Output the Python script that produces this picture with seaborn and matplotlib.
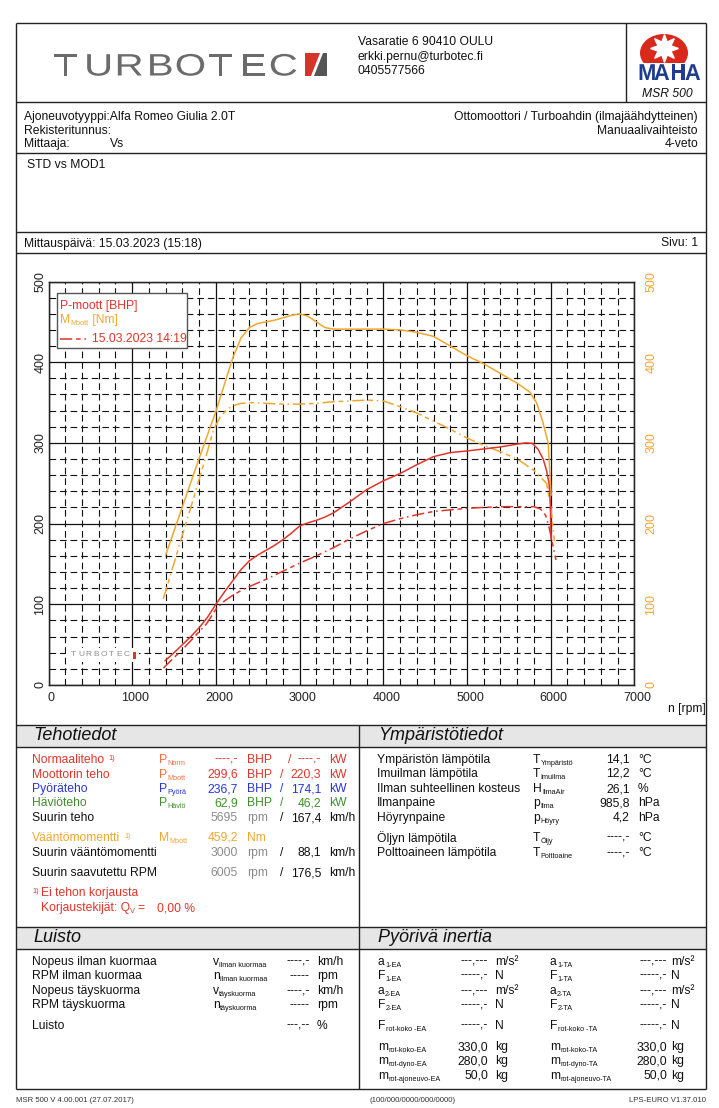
import matplotlib
matplotlib.use("Agg")
import matplotlib.pyplot as plt
import seaborn as sns
from matplotlib.ticker import MultipleLocator
from matplotlib.patches import Rectangle, Polygon, Circle, Ellipse, PathPatch
from matplotlib.textpath import TextPath
from matplotlib.font_manager import FontProperties
from matplotlib.transforms import Affine2D, ScaledTranslation

W, H = 719, 1108

# ---- dyno curves (rpm / BHP / Nm) ----
rpm_p_mod = [1392, 1500, 1600, 1700, 1800, 1900, 2000, 2100, 2200, 2300, 2400, 2500, 2600, 2700,
             2800, 2900, 3000, 3100, 3200, 3300, 3400, 3600, 3800, 4000, 4200, 4400, 4600, 4800,
             5000, 5200, 5400, 5600, 5700, 5780, 5850, 5910, 5950, 5980, 5995, 6005]
power_mod = [30, 40, 50, 60, 71, 84, 100, 115, 129, 143, 154, 161, 167, 173,
             180, 188, 197, 201, 204, 208, 213, 227, 242, 253, 262, 273, 283, 288,
             290, 292.5, 295, 298.5, 300, 299.5, 292, 280, 266, 250, 225, 180]

rpm_t_mod = [1400, 1500, 1600, 1700, 1800, 1900, 2000, 2100, 2200, 2300, 2400, 2500, 2600, 2700,
             2800, 2900, 3000, 3100, 3200, 3300, 3400, 3600, 3800, 4000, 4200, 4400, 4600, 4800,
             5000, 5200, 5400, 5600, 5750, 5830, 5900, 5970, 6005]
torque_mod = [161, 191, 221, 251, 281, 310, 339, 372, 405, 430, 443, 448, 450, 452,
              455, 458, 460, 457, 450, 443, 441, 441, 441, 441, 440, 437, 432, 420,
              408, 398, 386, 374, 363, 350, 328, 300, 235]

rpm_p_std = [1372, 1500, 1610, 1700, 1800, 1890, 2000, 2100, 2200, 2300, 2400, 2600, 2800, 3000,
             3200, 3400, 3600, 3800, 4000, 4200, 4400, 4600, 4800, 5000, 5200, 5400, 5600, 5800,
             5880, 5940, 5975, 6030, 6063]
power_std = [21, 34, 45, 55, 66, 76, 94, 104, 111, 117, 122, 131, 141, 151,
             160, 170, 181, 191, 200, 206, 211, 215, 217, 219, 220, 221, 221, 221,
             218, 210, 198, 171, 155]

rpm_t_std = [1372, 1500, 1600, 1700, 1800, 1900, 1970, 2050, 2130, 2200, 2300, 2450, 2600, 2800,
             3000, 3200, 3400, 3600, 3800, 4000, 4200, 4400, 4600, 4800, 5000, 5200, 5400, 5600,
             5800, 5950, 6000, 6045]
torque_std = [107, 151, 186, 220, 255, 290, 316, 332, 341, 346, 349, 350, 349, 348,
              348, 349, 351, 352, 353, 352, 345, 337, 327, 317, 306, 297, 289, 280,
              266, 250, 222, 178]

x_ticks = [0, 1000, 2000, 3000, 4000, 5000, 6000, 7000]
y_ticks = [0, 100, 200, 300, 400, 500]

# ---- report tables ----
env_rows = [("Ympäristön lämpötila", "T", "Ympäristö", "14,1", "°C"),
            ("Imuilman lämpötila", "T", "Imuilma", "12,2", "°C"),
            ("Ilman suhteellinen kosteus", "H", "IlmaAir", "26,1", "%"),
            ("Ilmanpaine", "p", "Ilma", "985,8", "hPa"),
            ("Höyrynpaine", "p", "Höyry", "4,2", "hPa"),
            ("Öljyn lämpötila", "T", "Öljy", "----,-", "°C"),
            ("Polttoaineen lämpötila", "T", "Polttoaine", "----,-", "°C")]
env_y = [760, 774, 789, 803, 818, 838, 853]

slip_rows = [("Nopeus ilman kuormaa", "v", "ilman kuormaa", "----,-", "km/h"),
             ("RPM ilman kuormaa", "n", "ilman kuormaa", "-----", "rpm"),
             ("Nopeus täyskuorma", "v", "täyskuorma", "----,-", "km/h"),
             ("RPM täyskuorma", "n", "täyskuorma", "-----", "rpm"),
             ("Luisto", "", "", "---,--", "%")]
slip_y = [962, 976, 991, 1005, 1026]

inertia_rows = [("a", "1-EA", "---,---", "m/s²", "a", "1-TA", "---,---", "m/s²"),
                ("F", "1-EA", "-----,-", "N", "F", "1-TA", "-----,-", "N"),
                ("a", "2-EA", "---,---", "m/s²", "a", "2-TA", "---,---", "m/s²"),
                ("F", "2-EA", "-----,-", "N", "F", "2-TA", "-----,-", "N"),
                ("F", "rot-koko -EA", "-----,-", "N", "F", "rot-koko -TA", "-----,-", "N"),
                ("m", "rot-koko-EA", "330,0", "kg", "m", "rot-koko-TA", "330,0", "kg"),
                ("m", "rot-dyno-EA", "280,0", "kg", "m", "rot-dyno-TA", "280,0", "kg"),
                ("m", "rot-ajoneuvo-EA", "50,0", "kg", "m", "rot-ajoneuvo-TA", "50,0", "kg")]
inertia_y = [962, 976, 991, 1005, 1026, 1047, 1061, 1076]

RED = "#e0352b"
ORANGE = "#f0a72e"
SYMRED = "#f2703c"
BLUE = "#2a35d8"
GREEN = "#3f8f2c"
GRAY = "#8c8c8c"
STD_LS = (0, (8, 2.5, 3, 2.5, 1, 2.5))
FS = 8.7
SUBFS = 5.2

sns.set_style("white")
plt.rcParams["font.family"] = ["Liberation Sans", "DejaVu Sans"]

fig = plt.figure(figsize=(W / 100, H / 100), dpi=100)
page = fig.add_axes([0, 0, 1, 1])
page.set_xlim(0, W)
page.set_ylim(H, 0)
page.axis("off")
renderer = fig.canvas.get_renderer()


def txt(x, y, s, size=FS, color="#111111", ha="left", a=None, **kw):
    return (a or page).text(x, y, s, fontsize=size, color=color, ha=ha, va="center", **kw)


def end_x(t):
    return t.get_window_extent(renderer).x1


def sym(x, y, main, sub, color="#111111", a=None):
    t = txt(x, y, main, color=color, a=a)
    s = txt(end_x(t) + 0.3, y + 3.5, sub, size=SUBFS, color=color, a=a)
    return end_x(s)


def logo_letters(a, word, x0, step, base, em, xscale, color, weight="normal"):
    # wide logo lettering: text outlines stretched horizontally
    prop = FontProperties(family="Liberation Sans", weight=weight)
    for i, ch in enumerate(word):
        tp = TextPath((0, 0), ch, size=em, prop=prop)
        w = tp.get_extents().width * xscale
        cx = x0 + step * (i + 0.5)
        tr = Affine2D().scale(xscale, -1).translate(cx - w / 2, base)
        a.add_patch(PathPatch(tr.transform_path(tp), fc=color, ec="none"))


def hline(y, x0=16, x1=706, lw=1.0):
    page.plot([x0, x1], [y, y], color="#222222", lw=lw, solid_capstyle="butt")


def vline(x, y0, y1, lw=1.0):
    page.plot([x, x], [y0, y1], color="#222222", lw=lw, solid_capstyle="butt")


# ---- page frame ----
page.add_patch(Rectangle((16, 725), 690, 22, fc="#e6e6e6", ec="none"))
page.add_patch(Rectangle((16, 926.7), 690, 22.6, fc="#e6e6e6", ec="none"))
for yy in [23, 102, 152.7, 231.7, 253.3, 725, 747, 926.7, 949.3, 1089]:
    hline(yy)
vline(16, 23, 1089)
vline(706, 23, 1089)
vline(626, 23, 102)
vline(359, 725, 1089)

# header logo
logo_letters(page, "TURBOTEC", 49, 31.0, 75.5, 31, 1.3, "#6b6b6b")
page.add_patch(Polygon([(305, 53), (320, 53), (311, 76), (305, 76)], fc="#d4342a", ec="none"))
page.add_patch(Polygon([(322.5, 53), (327, 53), (327, 76), (313.5, 76)], fc="#555555", ec="none"))
txt(358, 42, "Vasaratie 6 90410 OULU")
txt(358, 56.7, "erkki.pernu@turbotec.fi")
txt(358, 71, "0405577566")
page.add_patch(Ellipse((664, 53), 48, 38, fc="#d9291c", ec="none"))
page.add_patch(Rectangle((636, 63), 66, 18, fc="white", ec="none"))
page.plot([664], [48], marker=(8, 1, 0), ms=20, color="white", mec="white")
page.add_patch(Circle((664, 48), 7, fc="white", ec="none"))
page.add_patch(Circle((664, 48), 2.8, fc="#d9291c", ec="none"))
logo_letters(page, "MAHA", 638, 15.5, 80, 23, 0.95, "#1f3d8f", weight="bold")
txt(667, 94, "MSR 500", ha="center", style="italic")

txt(24, 116.7, "Ajoneuvotyyppi:Alfa Romeo Giulia 2.0T")
txt(24, 130.7, "Rekisteritunnus:")
txt(24, 144.3, "Mittaaja:")
txt(110, 144.3, "Vs")
txt(698, 116.7, "Ottomoottori / Turboahdin (ilmajäähdytteinen)", ha="right")
txt(698, 130.7, "Manuaalivaihteisto", ha="right")
txt(698, 144.3, "4-veto", ha="right")
txt(27, 165, "STD vs MOD1")
txt(24, 243.5, "Mittauspäivä: 15.03.2023 (15:18)")
txt(698, 243.5, "Sivu: 1", ha="right")

# ---- chart ----
px0, px1, py0, py1 = 48.5, 634.4, 685.0, 281.5
ax = fig.add_axes([px0 / W, 1 - py0 / H, (px1 - px0) / W, (py0 - py1) / H])
ax.set_xlim(0, 7000)
ax.set_ylim(0, 500)
ax.set_xticks(x_ticks)
ax.set_yticks(y_ticks)
ax.xaxis.set_minor_locator(MultipleLocator(200))
ax.yaxis.set_minor_locator(MultipleLocator(20))
ax.grid(which="major", color="#111111", lw=0.9, ls="-")
ax.grid(which="minor", color="#111111", lw=0.8, ls=(0, (6, 3.5)))
ax.set_axisbelow(True)
ax.tick_params(which="both", length=0)
ax.tick_params(axis="x", pad=5, labelsize=9, labelcolor="#222222")
ax.tick_params(axis="y", pad=1.5, labelsize=9, labelcolor="#222222", labelrotation=90)
shift = ScaledTranslation(3 / 100, 0, fig.dpi_scale_trans)
for lab in ax.get_xticklabels():
    lab.set_transform(lab.get_transform() + shift)
for lab in ax.get_yticklabels():
    lab.set_va("center")
for sp in ax.spines.values():
    sp.set_color("#111111")
    sp.set_linewidth(1.0)

sns.lineplot(x=rpm_t_mod, y=torque_mod, ax=ax, color=ORANGE, lw=1.1, estimator=None)
sns.lineplot(x=rpm_t_std, y=torque_std, ax=ax, color=ORANGE, lw=1.1, estimator=None, linestyle=STD_LS)
sns.lineplot(x=rpm_p_mod, y=power_mod, ax=ax, color=RED, lw=1.1, estimator=None)
sns.lineplot(x=rpm_p_std, y=power_std, ax=ax, color=RED, lw=1.1, estimator=None, linestyle=STD_LS)
ax.set_xlabel("")
ax.set_ylabel("")

ax2 = ax.twinx()
ax2.set_ylim(0, 500)
ax2.set_yticks(y_ticks)
ax2.tick_params(axis="y", length=0, pad=8, labelsize=9, labelcolor=ORANGE, labelrotation=90)
for lab in ax2.get_yticklabels():
    lab.set_va("center")
ax2.grid(False)
txt(668, 709, "n [rpm]")

# legend + watermark drawn over the chart
top = fig.add_axes([0, 0, 1, 1], zorder=5)
top.set_xlim(0, W)
top.set_ylim(H, 0)
top.axis("off")
top.add_patch(Rectangle((56.7, 292.7), 130.6, 55.6, fc="white", ec="#555555", lw=1.0))
txt(60, 306, "P-moott [BHP]", color=RED, a=top)
xe = sym(60, 320, "M", "Moott", color=ORANGE, a=top)
txt(xe, 320, " [Nm]", color=ORANGE, a=top)
top.plot([60, 89], [339, 339], color=RED, lw=1.1, ls=STD_LS)
txt(92, 339, "15.03.2023 14:19", color=RED, a=top)

top.add_patch(Rectangle((66, 648), 73, 14, fc="white", ec="none"))
for i, ch in enumerate("TURBOTEC"):
    txt(73.5 + i * 7.6, 655, ch, size=6, color="#8f8f8f", ha="center", a=top)
top.add_patch(Rectangle((132.5, 651.5), 3.5, 7, fc=RED, ec="none"))

# ---- Tehotiedot ----
txt(33, 736, "Tehotiedot", size=13, style="italic")
t = txt(32, 760, "Normaaliteho", color=RED)
txt(end_x(t) + 4, 758.5, "1)", size=SUBFS, color=RED)
sym(159, 760, "P", "Norm", SYMRED)
txt(238, 760, "----,-", color=RED, ha="right")
txt(247, 760, "BHP", color=RED)
txt(288, 760, "/", color=RED)
txt(321, 760, "----,-", color=RED, ha="right")
txt(329, 760, "kW", color=RED)

power_rows = [("Moottorin teho", "Moott", "299,6", "220,3", RED, SYMRED, 774.5),
              ("Pyöräteho", "Pyörä", "236,7", "174,1", BLUE, BLUE, 789),
              ("Häviöteho", "Häviö", "62,9", "46,2", GREEN, GREEN, 803.3)]
for lab, sub, bhp, kw, col, scol, yy in power_rows:
    txt(32, yy, lab, color=col)
    sym(159, yy, "P", sub, scol)
    txt(238, yy, bhp, color=col, ha="right")
    txt(247, yy, "BHP", color=col)
    txt(280, yy, "/", color=col)
    txt(321, yy, kw, color=col, ha="right")
    txt(329, yy, "kW", color=col)

speed_rows = [("Suurin teho", "5695", "167,4", 818.3),
              ("Suurin vääntömomentti", "3000", "88,1", 852.7),
              ("Suurin saavutettu RPM", "6005", "176,5", 873.3)]
for lab, rpm, kmh, yy in speed_rows:
    txt(32, yy, lab)
    txt(238, yy, rpm, color=GRAY, ha="right")
    txt(247, yy, "rpm", color=GRAY)
    txt(280, yy, "/")
    txt(321, yy, kmh, ha="right")
    txt(329, yy, "km/h")

t = txt(32, 837.7, "Vääntömomentti", color=ORANGE)
txt(end_x(t) + 4, 836.2, "1)", size=SUBFS, color=ORANGE)
sym(159, 837.7, "M", "Moott", ORANGE)
txt(238, 837.7, "459,2", color=ORANGE, ha="right")
txt(247, 837.7, "Nm", color=ORANGE)

txt(32, 891.8, "1)", size=SUBFS, color=RED)
txt(41, 893.3, "Ei tehon korjausta", color=RED)
xe = sym(41, 908.3, "Korjaustekijät: Q", "V", RED)
txt(xe + 2, 908.3, "=", color=RED)
txt(157, 908.3, "0,00 %", color=RED)

# ---- Ympäristötiedot ----
txt(378, 736, "Ympäristötiedot", size=13, style="italic")
for (lab, s, sub, val, unit), yy in zip(env_rows, env_y):
    txt(377, yy, lab)
    sym(533, yy, s, sub)
    txt(630, yy, val, ha="right")
    txt(638, yy, unit)

# ---- Luisto ----
txt(33, 938, "Luisto", size=13, style="italic")
for (lab, s, sub, val, unit), yy in zip(slip_rows, slip_y):
    txt(32, yy, lab)
    if s:
        sym(213, yy, s, sub)
    txt(310, yy, val, ha="right")
    txt(317, yy, unit)

# ---- Pyörivä inertia ----
txt(378, 938, "Pyörivä inertia", size=13, style="italic")
for (s1, sub1, v1, u1, s2, sub2, v2, u2), yy in zip(inertia_rows, inertia_y):
    sym(378, yy, s1, sub1)
    txt(488, yy, v1, ha="right")
    txt(495, yy, u1)
    sym(550, yy, s2, sub2)
    txt(667, yy, v2, ha="right")
    txt(671, yy, u2)

# ---- footer ----
txt(16, 1100, "MSR 500 V 4.00.001 (27.07.2017)", size=5.6, color="#333333")
txt(413, 1100, "(100/000/0000/000/0000)", size=5.6, color="#333333", ha="center")
txt(706, 1100, "LPS-EURO V1.37.010", size=5.6, color="#333333", ha="right")

fig.savefig("out.png", dpi=100)
plt.close(fig)
